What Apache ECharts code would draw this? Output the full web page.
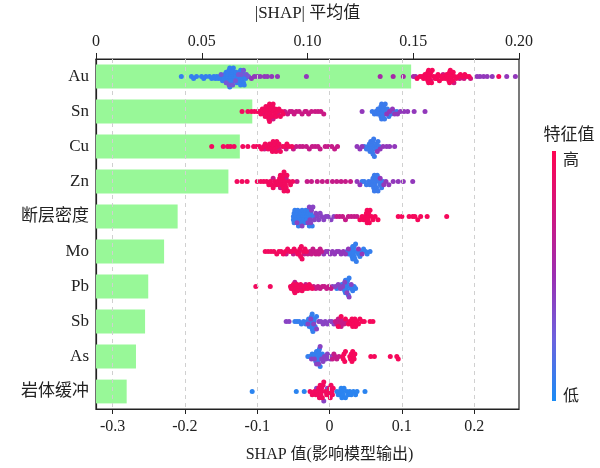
<!DOCTYPE html>
<html>
<head>
<meta charset="utf-8">
<script src="https://cdn.jsdelivr.net/npm/echarts@6/dist/echarts.min.js"></script>
<style>html,body{margin:0;padding:0;background:#fff;}#c{width:600px;height:468px;}</style>
</head>
<body>
<div id="c"></div>
<script>
// ---------- data ----------
const features = ['Au','Sn','Cu','Zn','断层密度','Mo','Pb','Sb','As','岩体缓冲'];
const meanAbsShap = [0.149, 0.0739, 0.068, 0.0626, 0.0386, 0.0322, 0.0247, 0.0232, 0.0189, 0.0145];
const shapTicks = [-0.3, -0.2, -0.1, 0, 0.1, 0.2];
const meanTicks = [0, 0.05, 0.10, 0.15, 0.20];
// per feature: [feature value (0 low .. 1 high), [SHAP values]]
const ptsAu = [
  [0.08, [-0.205,-0.191,-0.188,-0.184,-0.177,-0.174,-0.171,-0.166,-0.163,-0.16,-0.158,-0.156,-0.154,-0.152,-0.15,-0.148,-0.147,-0.146,-0.145,-0.144,-0.143,-0.142,-0.141,-0.141,-0.14,-0.14,-0.139,-0.139,-0.138,-0.138,-0.137,-0.137,-0.136,-0.136,-0.135,-0.135,-0.134,-0.133,-0.132,-0.131,-0.13,-0.129,-0.128,-0.127,-0.126,-0.125,-0.124,-0.124,-0.123,-0.123,-0.122,-0.122,-0.121,-0.12,-0.119,-0.118,-0.117,-0.116]],
  [0.3, [-0.15,-0.143,-0.139,-0.134,-0.13,-0.126,-0.122,-0.119,-0.115,-0.112]],
  [0.45, [-0.108,-0.104,-0.1,-0.096,-0.09,-0.086,-0.08,-0.072,-0.032,0.204,0.208,0.213,0.218,0.225,0.245,0.257]],
  [0.55, [0.07,0.088,0.102,0.116,0.119]],
  [0.75, [0.14,0.148,0.157,0.165,0.172,0.18,0.186,0.195]],
  [0.95, [0.121,0.125,0.128,0.13,0.132,0.133,0.134,0.135,0.136,0.136,0.137,0.137,0.138,0.138,0.139,0.14,0.141,0.142,0.144,0.146,0.148,0.15,0.152,0.154,0.156,0.158,0.16,0.162,0.163,0.164,0.165,0.166,0.166,0.167,0.168,0.168,0.169,0.17,0.171,0.173,0.175,0.178,0.181,0.184,0.187,0.19,0.193,0.234]]
];
const ptsSn = [
  [0.1, [0.059,0.062,0.064,0.066,0.067,0.068,0.069,0.07,0.071,0.071,0.072,0.072,0.073,0.073,0.074,0.074,0.075,0.076,0.077,0.078,0.08,0.082,0.085,0.089,0.093]],
  [0.45, [0.045,0.079,0.083,0.087,0.09,0.094,0.098,0.103,0.108,0.117,0.132]],
  [0.72, [-0.09,-0.078,-0.071,-0.062,-0.058,-0.055,-0.052,-0.049,-0.046,-0.042,-0.038,-0.034,-0.032,-0.029,-0.025,-0.02,-0.016,-0.012,-0.008]],
  [0.93, [-0.121,-0.113,-0.108,-0.104,-0.1,-0.097,-0.095,-0.093,-0.091,-0.09,-0.089,-0.088,-0.087,-0.086,-0.085,-0.085,-0.084,-0.084,-0.083,-0.083,-0.082,-0.082,-0.081,-0.08,-0.079,-0.078,-0.077,-0.076,-0.075,-0.074,-0.072,-0.07,-0.068,-0.066,-0.064]]
];
const ptsCu = [
  [0.1, [0.048,0.051,0.053,0.054,0.055,0.056,0.057,0.058,0.058,0.059,0.059,0.06,0.06,0.061,0.062,0.063,0.064,0.065,0.067,0.069]],
  [0.45, [0.038,0.042,0.045,0.066,0.07,0.074,0.079,0.083,0.09]],
  [0.7, [-0.09,-0.07,-0.06,-0.05,-0.046,-0.041,-0.037,-0.032,-0.028,-0.024,-0.02,-0.016,-0.013,-0.006,-0.002,0.003,0.007,0.011]],
  [0.93, [-0.163,-0.147,-0.141,-0.137,-0.132,-0.12,-0.113,-0.105,-0.101,-0.097,-0.094,-0.091,-0.089,-0.087,-0.085,-0.083,-0.082,-0.081,-0.08,-0.079,-0.078,-0.077,-0.076,-0.075,-0.074,-0.073,-0.072,-0.07,-0.068,-0.065,-0.062,-0.059,-0.056,-0.052]]
];
const ptsZn = [
  [0.1, [0.045,0.048,0.051,0.054,0.056,0.058,0.059,0.06,0.061,0.062,0.062,0.063,0.063,0.064,0.065,0.066,0.067,0.068,0.07,0.072,0.074]],
  [0.45, [0.038,0.042,0.07,0.075,0.078,0.082,0.088,0.095,0.102,0.115]],
  [0.7, [-0.078,-0.068,-0.06,-0.045,-0.031,-0.025,-0.017,-0.01,-0.003,0.004,0.01,0.016,0.022,0.029]],
  [0.93, [-0.128,-0.121,-0.114,-0.1,-0.095,-0.091,-0.087,-0.084,-0.082,-0.08,-0.078,-0.076,-0.074,-0.072,-0.07,-0.069,-0.068,-0.067,-0.066,-0.065,-0.064,-0.064,-0.063,-0.063,-0.062,-0.061,-0.06,-0.059,-0.058,-0.056,-0.054,-0.051]]
];
const ptsFault = [
  [0.08, [-0.05,-0.05,-0.049,-0.049,-0.048,-0.047,-0.046,-0.045,-0.044,-0.043,-0.042,-0.041,-0.04,-0.039,-0.038,-0.037,-0.036,-0.035,-0.034,-0.033,-0.032,-0.031,-0.03,-0.029,-0.028,-0.027,-0.026,-0.024,-0.022]],
  [0.4, [-0.045,-0.038,-0.03,-0.028,-0.027,-0.026,-0.025,-0.023,-0.021,-0.019,-0.017,-0.015,-0.013,-0.011,-0.008,-0.005,-0.002,0.002,0.006]],
  [0.7, [0.01,0.014,0.018,0.022,0.026,0.03,0.034,0.038]],
  [0.95, [0.042,0.045,0.047,0.049,0.05,0.051,0.052,0.052,0.053,0.053,0.054,0.055,0.056,0.058,0.06,0.063,0.067,0.095,0.1,0.11,0.115,0.118,0.122,0.126,0.135,0.162]]
];
const ptsMo = [
  [0.08, [0.024,0.026,0.028,0.029,0.03,0.031,0.032,0.032,0.033,0.033,0.033,0.034,0.034,0.035,0.036,0.037,0.038,0.04,0.042,0.044,0.047,0.05,0.052,0.056]],
  [0.45, [-0.008,-0.005,-0.002,0.001,0.004,0.007,0.01,0.013,0.016,0.019,0.022,0.026,0.04,0.045]],
  [0.7, [-0.06,-0.05,-0.042,-0.035,-0.03,-0.027,-0.025,-0.023,-0.021,-0.019,-0.017,-0.015,-0.013,-0.011]],
  [0.93, [-0.089,-0.085,-0.081,-0.077,-0.073,-0.07,-0.067,-0.064,-0.061,-0.058,-0.055,-0.052,-0.049,-0.046,-0.044,-0.042,-0.041,-0.04,-0.039,-0.038,-0.036,-0.034,-0.032]]
];
const ptsPb = [
  [0.08, [0.01,0.014,0.017,0.019,0.02,0.021,0.022,0.022,0.023,0.023,0.023,0.024,0.024,0.025,0.026,0.027,0.028,0.03,0.032,0.034,0.036]],
  [0.4, [0.004,0.008,0.012,0.015,0.018,0.021,0.024,0.027,0.03]],
  [0.7, [-0.048,-0.04,-0.033,-0.022,-0.019,-0.016,-0.013,-0.01,-0.007,-0.004,-0.001,0.002]],
  [0.93, [-0.102,-0.082,-0.054,-0.053,-0.052,-0.051,-0.05,-0.049,-0.048,-0.047,-0.046,-0.045,-0.044,-0.042,-0.04,-0.038,-0.036,-0.034,-0.032,-0.03,-0.028,-0.026,-0.024]]
];
const ptsSb = [
  [0.08, [-0.048,-0.045,-0.042,-0.039,-0.036,-0.033,-0.031,-0.029,-0.028,-0.027,-0.026,-0.025,-0.025,-0.024,-0.024,-0.023,-0.022,-0.021,-0.02,-0.018]],
  [0.4, [-0.06,-0.056,-0.03,-0.026,-0.022,-0.018,-0.015,-0.012,-0.009,-0.006,-0.003,0,0.003,0.006]],
  [0.7, [0.008,0.01,0.012,0.013,0.014,0.015,0.016,0.018,0.02,0.024]],
  [0.95, [0.012,0.016,0.022,0.026,0.028,0.03,0.031,0.032,0.033,0.034,0.035,0.036,0.038,0.04,0.042,0.045,0.048,0.056,0.06]]
];
const ptsAs = [
  [0.08, [-0.03,-0.027,-0.024,-0.022,-0.02,-0.019,-0.018,-0.017,-0.017,-0.016,-0.016,-0.015,-0.014,-0.013,-0.012,-0.01]],
  [0.4, [-0.025,-0.021,-0.018,-0.015,-0.013,-0.011,-0.009,-0.007,-0.005,-0.003,-0.001,0.001,0.003]],
  [0.7, [0.004,0.006,0.008,0.01,0.013]],
  [0.95, [0.018,0.019,0.02,0.021,0.022,0.028,0.029,0.03,0.031,0.032,0.033,0.034,0.035,0.057,0.062,0.084,0.093,0.095]]
];
const ptsRock = [
  [0.05, [-0.107,-0.046,-0.035,0.01,0.012,0.014,0.015,0.016,0.017,0.018,0.019,0.02,0.022,0.024,0.026,0.028,0.03,0.033,0.036,0.038,0.049]],
  [0.4, [-0.018,-0.008,-0.003]],
  [0.93, [-0.027,-0.024,-0.021,-0.019,-0.017,-0.016,-0.015,-0.014,-0.013,-0.012,-0.012,-0.011,-0.01,-0.009,-0.008,-0.006,-0.004,-0.002,-0.001,0,0.001,0.002,0.003,0.004,0.005]]
];
const featurePoints = [ptsAu, ptsSn, ptsCu, ptsZn, ptsFault, ptsMo, ptsPb, ptsSb, ptsAs, ptsRock];
const cmap = ['#1a8cf5', '#6d62de', '#9b2eb2', '#d0167f', '#ff0552'];

// ---------- beeswarm layout (vertical offsets only) ----------
function swarm(groups, row) {
  const pts = [];
  groups.forEach(([fv, xs]) => xs.forEach(x => pts.push({x: x, fv: fv})));
  const binW = 0.005;
  pts.forEach(p => p.q = Math.round(p.x / binW));
  const order = pts.slice().sort((a, b) => a.q - b.q || a.x - b.x);
  let layer = 0, last = null;
  order.forEach(p => {
    if (p.q !== last) layer = 0;
    p.l = Math.ceil(layer / 2) * ((layer % 2) * 2 - 1);
    layer++; last = p.q;
  });
  const maxL = Math.max(...pts.map(p => Math.abs(p.l))) + 1;
  const step = Math.min(0.9 * 0.4 / maxL, 0.11);
  return pts.map(p => [p.x, row + p.l * step, p.fv]);
}
const scatterData = [];
featurePoints.forEach((g, i) => swarm(g, i).forEach(d => scatterData.push(d)));

// ---------- chart ----------
const serif = "'Liberation Serif', 'Times New Roman', 'Noto Sans CJK SC', serif";
const chart = echarts.init(document.getElementById('c'), null, {renderer: 'canvas'});
chart.setOption({
  animation: false,
  backgroundColor: '#fff',
  grid: {left: 96, right: 81, top: 50, bottom: 52, show: true, borderColor: '#222', borderWidth: 1.2, backgroundColor: 'transparent'},
  visualMap: {show: false, type: 'continuous', min: 0, max: 1, dimension: 2, seriesIndex: 1, inRange: {color: cmap}},
  xAxis: [
    {
      type: 'value', position: 'bottom', min: -0.323, max: 0.262,
      axisLine: {show: true, onZero: false, lineStyle: {color: '#222', width: 1.2}},
      axisTick: {show: true, length: 5, lineStyle: {color: '#222'}, customValues: shapTicks},
      axisLabel: {customValues: shapTicks, margin: 10, color: '#222', fontFamily: serif, fontSize: 16,
        formatter: v => (Math.abs(v) < 1e-9 ? '0' : String(Math.round(v * 10) / 10))},
      splitLine: {show: false},
      name: 'SHAP 值(影响模型输出)', nameLocation: 'middle', nameGap: 38,
      nameTextStyle: {fontFamily: serif, fontSize: 16, color: '#222', padding: [0, 0, 0, 44]}
    },
    {
      type: 'value', position: 'top', min: 0, max: 0.2, interval: 0.05,
      axisLine: {show: true, onZero: false, lineStyle: {color: '#222', width: 1.2}},
      axisTick: {show: true, length: 6, lineStyle: {color: '#222'}},
      axisLabel: {margin: 9, color: '#222', fontFamily: serif, fontSize: 16,
        formatter: v => (v === 0 ? '0' : v.toFixed(2))},
      splitLine: {show: false},
      name: '|SHAP| 平均值', nameLocation: 'middle', nameGap: 37,
      nameTextStyle: {fontFamily: serif, fontSize: 17, color: '#222'}
    }
  ],
  yAxis: [
    {
      type: 'category', data: features, inverse: true,
      axisLine: {show: true, onZero: false, lineStyle: {color: '#222', width: 1.2}},
      axisTick: {show: false},
      axisLabel: {margin: 7, color: '#222', fontFamily: serif, fontSize: 17}
    },
    {type: 'value', min: -0.5, max: 9.5, inverse: true, show: false}
  ],
  series: [
    {
      type: 'bar', xAxisIndex: 1, yAxisIndex: 0, data: meanAbsShap, barWidth: '68%',
      itemStyle: {color: '#98f898'}, silent: true, z: 1
    },
    {
      type: 'scatter', xAxisIndex: 0, yAxisIndex: 1, data: scatterData,
      symbolSize: 5, itemStyle: {opacity: 1}, z: 3,
      markLine: {
        silent: true, symbol: 'none', label: {show: false},
        lineStyle: {type: [4, 4], color: '#d0d0d0', width: 1},
        data: shapTicks.map(t => ({xAxis: t}))
      }
    }
  ],
  graphic: [
    {type: 'rect', left: 552, top: 151, shape: {width: 4, height: 250},
      style: {fill: new echarts.graphic.LinearGradient(0, 0, 0, 1,
        cmap.slice().reverse().map((c, i, a) => ({offset: i / (a.length - 1), color: c})))}},
    {type: 'text', x: 569, y: 134, style: {text: '特征值', font: "17px 'Noto Sans CJK SC'", fill: '#222', textAlign: 'center', textVerticalAlign: 'middle'}},
    {type: 'text', x: 563, y: 159, style: {text: '高', font: "16px 'Noto Sans CJK SC'", fill: '#222', textAlign: 'left', textVerticalAlign: 'middle'}},
    {type: 'text', x: 563, y: 395, style: {text: '低', font: "16px 'Noto Sans CJK SC'", fill: '#222', textAlign: 'left', textVerticalAlign: 'middle'}}
  ]
});
</script>
</body>
</html>
